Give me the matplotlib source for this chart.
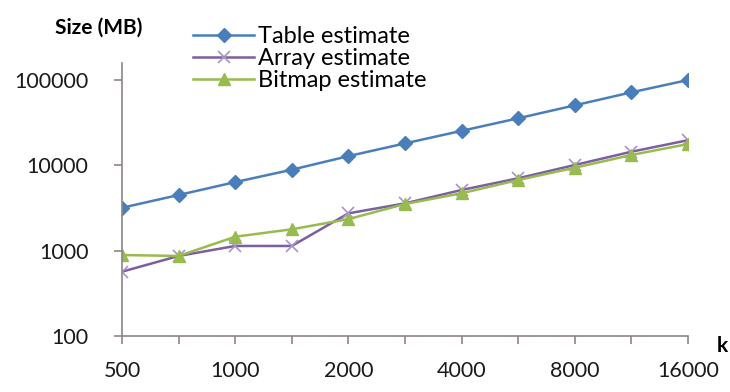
import matplotlib
import matplotlib.pyplot as plt

matplotlib.use('Agg')

plt.rcParams['font.family'] = ['Lato', 'DejaVu Sans']

# Valeurs de k (catégories) et étiquettes affichées
k_values = [500, 707, 1000, 1414, 2000, 2828, 4000, 5657, 8000, 11314, 16000]
k_labels = ['500', '', '1000', '', '2000', '', '4000', '', '8000', '', '16000']

# Tailles estimées (MB)
table_est = [3160, 4460, 6310, 8810, 12700, 17900, 25100, 35200, 49900, 70800, 98600]
array_est = [565, 863, 1130, 1130, 2720, 3560, 5100, 7000, 10000, 14300, 19500]
bitmap_est = [885, 863, 1450, 1770, 2330, 3500, 4670, 6680, 9290, 13100, 17600]

blue = '#4a7ebb'
purple = '#7d5fa0'
green = '#98bb50'
axis_col = '#8c8684'

fig = plt.figure(figsize=(7.3, 3.92), dpi=100)
ax = fig.add_axes([122 / 730, 56 / 392, 566 / 730, 273 / 392])

x = list(range(len(k_values)))
ax.plot(x, table_est, color=blue, lw=1.8, marker='D', ms=7.5,
        mec=blue, mfc=blue, label='Table estimate')
ax.plot(x, array_est, color=purple, lw=1.8, marker='x', ms=9, mew=1.2,
        mec='#a993c9', label='Array estimate')
ax.plot(x, bitmap_est, color=green, lw=1.8, marker='^', ms=9,
        mec=green, mfc=green, label='Bitmap estimate')

# Axe y logarithmique, graduations par décade
ax.set_yscale('log')
ax.set_ylim(100, 1.56e5)
ax.set_yticks([100, 1000, 10000, 100000])
ax.set_yticklabels(['100', '1000', '10000', '100000'])
ax.yaxis.set_minor_locator(matplotlib.ticker.NullLocator())

ax.set_xlim(0, len(k_values) - 1)
ax.set_xticks(x)
ax.set_xticklabels(k_labels)

for side in ['top', 'right']:
    ax.spines[side].set_visible(False)
for side in ['left', 'bottom']:
    ax.spines[side].set_color(axis_col)
    ax.spines[side].set_linewidth(1.2)

ax.tick_params(axis='both', colors=axis_col, labelcolor='#1a1a1a',
               labelsize=15.5, length=6, width=1.2, direction='out')
ax.tick_params(axis='x', pad=12)
ax.tick_params(axis='y', pad=18)

# Titres des axes
fig.text(99 / 730, 1 - 28 / 392, 'Size (MB)', ha='center', va='center',
         fontsize=15, fontweight='bold')
fig.text(722 / 730, 1 - 346 / 392, 'k', ha='center', va='center',
         fontsize=15, fontweight='bold')

ax.legend(loc='upper left', bbox_to_anchor=(193 / 730, 1 - 26 / 392),
          bbox_transform=fig.transFigure, frameon=False, fontsize=17,
          handlelength=2.6, handletextpad=0.15, labelspacing=0.05,
          borderaxespad=0, borderpad=0)

fig.savefig('out.png', dpi=100, facecolor='white')
